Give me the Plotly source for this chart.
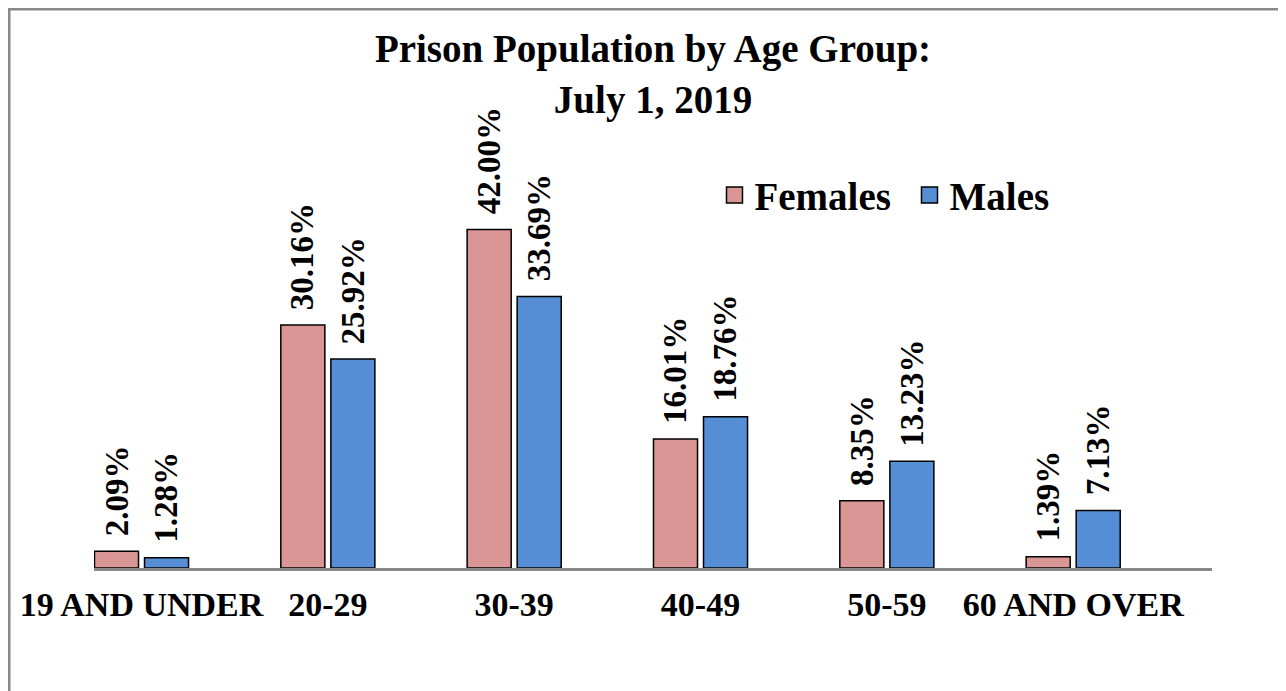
import plotly.graph_objects as go

# data
age_groups = ['19 AND UNDER', '20-29', '30-39', '40-49', '50-59', '60 AND OVER']
females = [2.09, 30.16, 42.00, 16.01, 8.35, 1.39]
males = [1.28, 25.92, 33.69, 18.76, 13.23, 7.13]

FONT = 'Liberation Serif, Times New Roman, serif'
PINK = '#D99694'
BLUE = '#558ED5'
GRAY = '#898989'

fig = go.Figure()
for name, vals, col in (('Females', females, PINK), ('Males', males, BLUE)):
    fig.add_trace(go.Bar(x=age_groups, y=vals, name=name, showlegend=False,
                         marker=dict(color=col, line=dict(color='black', width=1.5))))
    # legend-only entry so the swatch can be bigger
    fig.add_trace(go.Scatter(x=[None], y=[None], mode='markers', name='<b>%s</b>' % name,
                             marker=dict(symbol='square', size=20, color=col,
                                         line=dict(color='black', width=1.5))))

# rotated value labels above each bar
for i, cat in enumerate(age_groups):
    for vals, shift in ((females, -25), (males, 25)):
        fig.add_annotation(x=i, y=vals[i], text='<b>%.2f%%</b>' % vals[i],
                           textangle=-90, xshift=shift, yshift=13,
                           yanchor='bottom', showarrow=False,
                           font=dict(family=FONT, size=33, color='black'))

# outer chart border
fig.add_shape(type='rect', xref='paper', yref='paper',
              x0=-0.076, x1=1.0653, y0=-0.4, y1=1.387,
              line=dict(color=GRAY, width=3), fillcolor='rgba(0,0,0,0)')

# page body has an 8px margin, so the figure is sized to fit the window
fig.update_layout(
    width=1278, height=683,
    margin=dict(l=86, r=74, t=157, b=123),
    paper_bgcolor='white', plot_bgcolor='white',
    barmode='group', bargap=0.463, bargroupgap=0.12,
    title=dict(text='<b>Prison Population by Age Group:<br>July 1, 2019</b>',
               x=0.5, xref='paper', xanchor='center',
               y=1 - 54 / 683, yanchor='middle',
               font=dict(family=FONT, size=39, color='black')),
    legend=dict(orientation='h', x=0.555, y=0.925, xanchor='left', yanchor='middle',
                font=dict(family=FONT, size=39, color='black'),
                entrywidth=150, itemsizing='trace', traceorder='normal',
                bgcolor='rgba(0,0,0,0)'),
    font=dict(family=FONT, color='black'),
    showlegend=True,
)
fig.update_xaxes(type='category', range=[-0.255, 5.745], showline=True,
                 linecolor=GRAY, linewidth=3, ticks='', showgrid=False,
                 tickfont=dict(family=FONT, size=34, color='black'),
                 ticklabelstandoff=4, tickprefix='<b>', ticksuffix='</b>')
fig.update_yaxes(range=[0, 50], visible=False, showgrid=False)

fig.write_html('out.html')
